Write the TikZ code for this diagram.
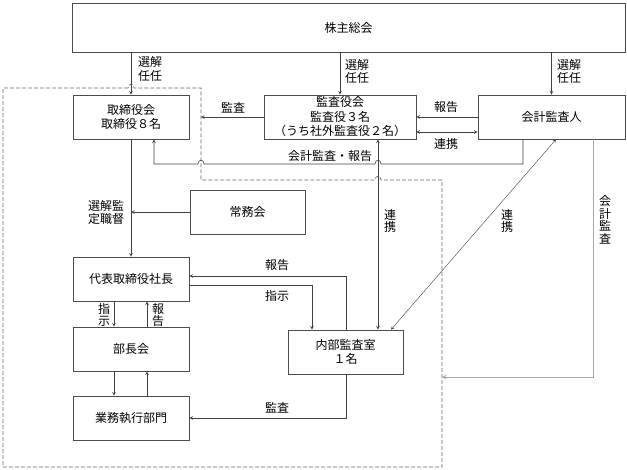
\documentclass[tikz,border=0pt]{standalone}
\usepackage{fontspec}
\setmainfont{Noto Sans CJK JP}
\usepackage{tikz}
\usetikzlibrary{arrows,positioning}

\begin{document}
\begin{tikzpicture}[x=1pt, y=-1pt, >=stealth,
  font=\fontsize{12}{14.5}\selectfont,
  box/.style={draw=black!70, line width=0.8pt, align=center, inner sep=0pt},
  con/.style={draw=black!75, line width=0.6pt},
  tate/.style={align=center, inner sep=0pt, font=\fontsize{12}{12.5}\selectfont}]
\useasboundingbox (0,0) rectangle (627,469);
\node[box, minimum width=553, minimum height=49] (kabunushi) at (348.5,27.5) {株主総会};
\node[box, minimum width=116, minimum height=44] (torishimari) at (131,117) {取締役会\\取締役８名};
\node[box, minimum width=152, minimum height=44] (kansa) at (340,117) {監査役会\\監査役３名\\（うち社外監査役２名）};
\node[box, minimum width=147, minimum height=44] (kaikei) at (551.5,117) {会計監査人};
\node[box, minimum width=115, minimum height=44] (jomu) at (247.5,212) {常務会};
\node[box, minimum width=116, minimum height=44] (shacho) at (131,279) {代表取締役社長};
\node[box, minimum width=116, minimum height=44] (bucho) at (131,349) {部長会};
\node[box, minimum width=116, minimum height=44] (gyomu) at (131,418) {業務執行部門};
\node[box, minimum width=115, minimum height=44] (naibu) at (345.5,352) {内部監査室\\１名};
\coordinate (dashtr) at (201,88);
\coordinate (kaikeiin) at (442,377);
\draw[dash pattern=on 4pt off 2pt, draw=black!60, line width=0.7pt] (128,88) -- (3,88) -- (3,467) -- (442,467) -- (442,180) -- (381,180) .. controls (381,175) and (375,175) .. (375,180) -- (201,180) -- (dashtr) -- (134,88) .. controls (134,83) and (128,83) .. (128,88);
\draw[con,->] (kabunushi.south -| torishimari.north) -- (torishimari.north);
\draw[con,->] (kabunushi.south -| kansa.north) -- (kansa.north);
\draw[con,->] (kabunushi.south -| kaikei.north) -- (kaikei.north);
\node[anchor=west, align=left, inner sep=0pt, font=\fontsize{12}{13.5}\selectfont] (sen1) at (138,69) {選解\\任任};
\node[anchor=west, align=left, inner sep=0pt, font=\fontsize{12}{13.5}\selectfont] (sen2) at (345,71.5) {選解\\任任};
\node[anchor=west, align=left, inner sep=0pt, font=\fontsize{12}{13.5}\selectfont] (sen3) at (557,71.5) {選解\\任任};
\draw[con,->] (kansa.west) -- (kansa.west -| dashtr);
\node (lkansa1) at (233,108) {監査};
\draw[con,->] (kaikei.west) -- (kaikei.west -| kansa.east);
\draw[con,<->] ([yshift=-15pt]kansa.east) -- ([yshift=-15pt]kansa.east -| kaikei.west);
\node (lhokoku1) at (446,107) {報告};
\node (lrenkei1) at (446,144) {連携};
\draw[con,->] ([xshift=-28.5pt]kaikei.south) |- (381,164) .. controls (381,159) and (375,159) .. (375,164) -- (204,164) .. controls (204,159) and (198,159) .. (198,164) -| ([xshift=23pt]torishimari.south);
\node (lkaikei1) at (330,156) {会計監査・報告};
\draw[con,->] (jomu.west) -- (jomu.west -| torishimari.south);
\node[tate, font=\fontsize{12}{13}\selectfont] (lsentei) at (106,212) {選解監\\定職督};
\draw[con,->] (torishimari.south) -- (shacho.north);
\draw[con,->] ([xshift=0.5pt]naibu.north) |- ([yshift=3pt]shacho.east);
\draw[con,->] ([yshift=-6pt]shacho.east) -| ([xshift=-33.5pt]naibu.north);
\node (lhokoku2) at (277,265) {報告};
\node (lshiji1) at (277,296) {指示};
\draw[con,<->] ([xshift=38pt]kansa.south) -- ([xshift=38pt]kansa.south |- naibu.north);
\node[tate] (lrenkei2) at (390,221) {連\\携};
\draw[con,<->, line width=0.4pt] ([xshift=4.5pt]kaikei.south) -- ([xshift=45.5pt]naibu.north);
\node[tate] (lrenkei3) at (507,221) {連\\携};
\draw[con,->, draw=black!35, line width=1pt] ([xshift=41.5pt]kaikei.south) |- (kaikeiin);
\node[tate] (lkaikei2) at (605,220) {会\\計\\監\\査};
\draw[con,->] ([xshift=-17pt]shacho.south) -- ([xshift=-17pt]bucho.north);
\draw[con,->] ([xshift=16pt]bucho.north) -- ([xshift=16pt]shacho.south);
\node[tate] (lshiji2) at (104,315) {指\\示};
\node[tate] (lhokoku3) at (158,315) {報\\告};
\draw[con,->] ([xshift=-17pt]bucho.south) -- ([xshift=-17pt]gyomu.north);
\draw[con,->] ([xshift=16pt]gyomu.north) -- ([xshift=16pt]bucho.south);
\draw[con,->] ([xshift=0.5pt]naibu.south) |- (gyomu.east);
\node (lkansa2) at (277,408) {監査};
\end{tikzpicture}
\end{document}
